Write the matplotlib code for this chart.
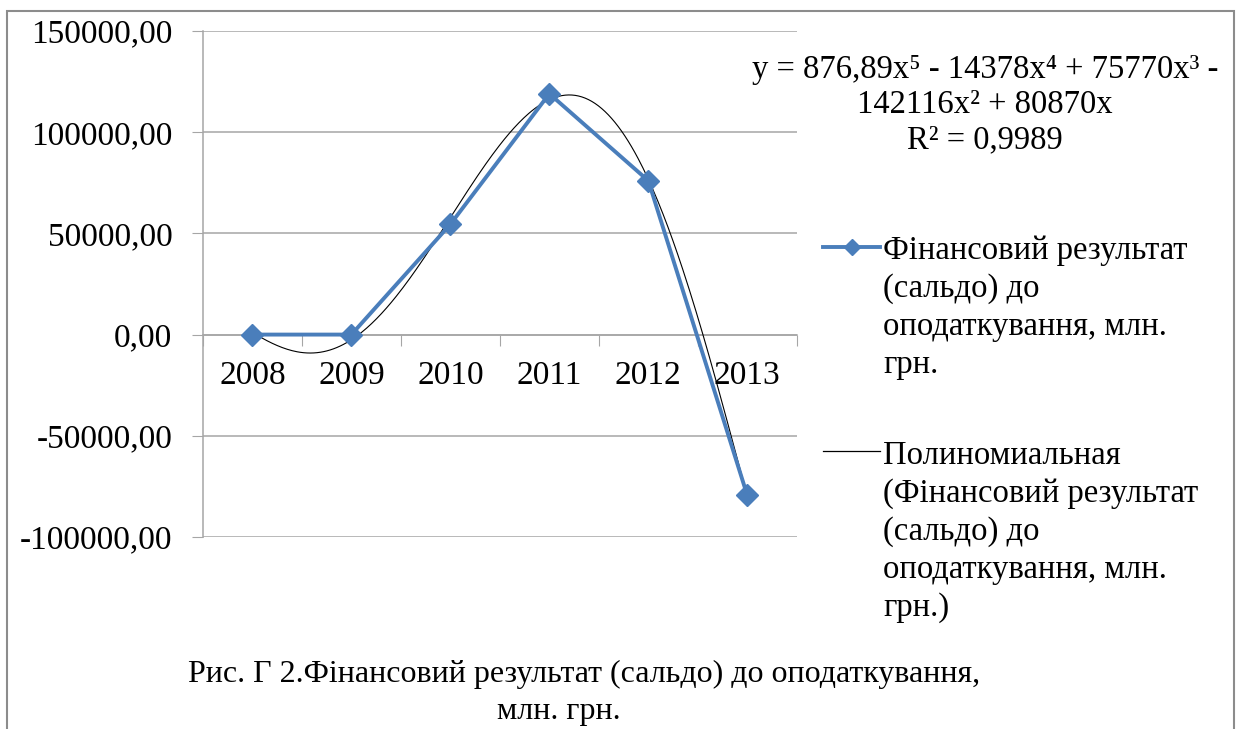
import numpy as np
import matplotlib
matplotlib.use("Agg")
import matplotlib.pyplot as plt
from matplotlib.lines import Line2D
from matplotlib.patches import Rectangle
from matplotlib.offsetbox import HPacker
from matplotlib.ticker import FixedLocator, FuncFormatter

plt.rcParams['font.family'] = ['Liberation Serif', 'DejaVu Serif']

years = ['2008', '2009', '2010', '2011', '2012', '2013']
values = [0, 0, 54500, 119000, 76000, -79500]
# trendline coefficients as printed on the chart (x = 1..6)
poly_coef = [876.89, -14378, 75770, -142116, 80870, 0]
y_ticks = [-100000, -50000, 0, 50000, 100000, 150000]

series_label = "Фінансовий результат\n(сальдо) до\nоподаткування, млн.\nгрн."
trend_label = "Полиномиальная\n(Фінансовий результат\n(сальдо) до\nоподаткування, млн.\nгрн.)"
eq_text = "y = 876,89x\u2075 - 14378x\u2074 + 75770x\u00b3 -\n142116x\u00b2 + 80870x\nR\u00b2 = 0,9989"
caption = ["Рис. Г 2.Фінансовий результат (сальдо) до оподаткування,", "млн. грн."]

blue = '#4a7ebb'
grid_c = '#a6a6a6'
fs = 23.5

fig = plt.figure(figsize=(12.45, 7.29), dpi=100)
ax = fig.add_axes([0.163, 0.2634, 0.477, 0.6941])

x = np.arange(len(years))
xs = np.linspace(0, len(years) - 1, 300)
trend = np.polyval(poly_coef, xs + 1)

ax.plot(xs, trend, color='black', lw=0.8, zorder=3)
ax.plot(x, values, color=blue, lw=2.8, marker='D', ms=11, zorder=4)

ax.set_xlim(-0.5, len(years) - 0.5)
ax.set_ylim(-100000, 150000)

ax.yaxis.set_major_locator(FixedLocator(y_ticks))
ax.yaxis.set_major_formatter(FuncFormatter(lambda v, p: f"{v:.2f}".replace('.', ',')))
ax.grid(axis='y', color=grid_c, lw=1.1)
ax.set_axisbelow(True)

ax.xaxis.set_major_locator(FixedLocator(np.arange(-0.5, len(years), 1.0)))
ax.xaxis.set_major_formatter(FuncFormatter(lambda v, p: ''))
ax.xaxis.set_minor_locator(FixedLocator(x))
ax.set_xticklabels(years, minor=True)
ax.tick_params(axis='x', which='minor', length=0, pad=19, labelsize=24)
ax.tick_params(axis='x', which='major', length=8, color=grid_c, direction='out')
ax.tick_params(axis='y', length=8, color=grid_c, pad=14, labelsize=24)

for s in ['top', 'right']:
    ax.spines[s].set_visible(False)
ax.spines['bottom'].set_position(('data', 0))
ax.spines['bottom'].set_color(grid_c)
ax.spines['left'].set_color(grid_c)
ax.spines['bottom'].set_linewidth(1.1)
ax.spines['left'].set_linewidth(1.1)

handles = [Line2D([], [], color=blue, lw=2.8, marker='D', ms=8),
           Line2D([], [], color='black', lw=0.9)]
leg = ax.legend(handles, [series_label, trend_label], loc='upper left',
                bbox_to_anchor=(0.661, 0.677), bbox_transform=fig.transFigure,
                frameon=False, fontsize=fs, handlelength=1.75, handletextpad=0.1,
                labelspacing=1.85, borderpad=0, borderaxespad=0)
for t in leg.get_texts():
    t.set_linespacing(1.31)
for box in leg.findobj(HPacker):
    box.align = 'top'

fig.text(0.791, 0.925, eq_text, ha='center', va='top', fontsize=fs, linespacing=1.2)
fig.text(0.469, 0.0755, caption[0], ha='center', va='center', fontsize=23)
fig.text(0.449, 0.0235, caption[1], ha='center', va='center', fontsize=23)

fig.patches.append(Rectangle((0.0056, -0.1), 0.9856, 1.1 - 0.015, transform=fig.transFigure,
                             fill=False, edgecolor='#8c8c8c', lw=1.5))

fig.savefig('out.png', dpi=100)
